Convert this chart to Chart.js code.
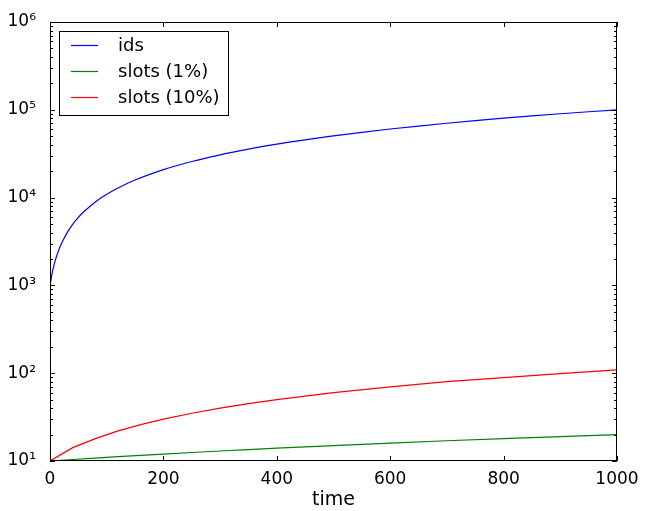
<!DOCTYPE html>
<html>
<head>
<meta charset="utf-8">
<script src="https://cdn.jsdelivr.net/npm/chart.js@4"></script>
<style>
  html, body { margin: 0; padding: 0; background: #fff; }
</style>
</head>
<body>
<canvas id="myChart" width="647" height="511"></canvas>
<script>
// values
const idsTime = [0, 5, 10, 15, 20, 30, 40, 50, 60, 80, 100, 125, 150, 200, 250, 300, 350, 400, 450, 500, 600, 700, 800, 900, 1000];
const ids = [1000, 1500, 1990, 2480, 2980, 3970, 4960, 5950, 6940, 8920, 10900, 13380, 15850, 20800, 25750, 30700, 35650, 40600, 45550, 50500, 60400, 70300, 80200, 90100, 100000];
const slotTime = [0, 40, 80, 120, 160, 200, 250, 300, 350, 400, 500, 600, 700, 800, 900, 1000];
const slots1 = [10, 10.4, 10.8, 11.2, 11.6, 12, 12.5, 13, 13.5, 14, 15, 16, 17, 18, 19, 20];
const slots10 = [10, 14.2, 18, 22, 26, 30, 35, 40, 45, 50, 60, 70, 80, 89, 99, 109];
const labels = ['ids', 'slots (1%)', 'slots (10%)'];
const colors = ['#0000ff', '#008000', '#ff0000'];
const xTicks = [0, 200, 400, 600, 800, 1000];
const sup = {1: '¹', 2: '²', 3: '³', 4: '⁴', 5: '⁵', 6: '⁶'};

const font = '"DejaVu Sans", sans-serif';

function pts(xs, ys) {
    return xs.map((x, i) => ({x: x, y: ys[i]}));
}

// inward ticks, frame and legend drawn the matplotlib way
const frame = {
    id: 'frame',
    afterDraw(chart) {
        const c = chart.ctx;
        const a = chart.chartArea;
        const xs = chart.scales.x, ys = chart.scales.y;
        c.save();
        c.strokeStyle = '#000';
        c.lineWidth = 1;
        c.beginPath();
        xTicks.forEach(v => {
            let px = Math.round(xs.getPixelForValue(v)) + 0.5;
            c.moveTo(px, a.bottom); c.lineTo(px, a.bottom - 5);
            c.moveTo(px, a.top); c.lineTo(px, a.top + 5);
        });
        for (let e = 1; e <= 6; e++) {
            for (let m = 1; m <= 9; m++) {
                let v = m * Math.pow(10, e);
                if (v > 1e6) break;
                let py = Math.round(ys.getPixelForValue(v)) + 0.5;
                let len = m === 1 ? 5 : 3;
                c.moveTo(a.left, py); c.lineTo(a.left + len, py);
                c.moveTo(a.right, py); c.lineTo(a.right - len, py);
            }
        }
        c.stroke();
        c.strokeRect(Math.round(a.left) + 0.5, Math.round(a.top) + 0.5,
            Math.round(a.right - a.left) - 1, Math.round(a.bottom - a.top) - 1);

        // legend
        c.fillStyle = '#fff';
        c.fillRect(59.5, 31.5, 169, 84);
        c.strokeStyle = '#000';
        c.strokeRect(59.5, 31.5, 169, 84);
        c.font = '18px ' + font;
        c.textBaseline = 'middle';
        c.textAlign = 'left';
        labels.forEach((lab, i) => {
            let y = 45 + i * 26;
            c.beginPath();
            c.strokeStyle = colors[i];
            c.lineWidth = 1.2;
            c.moveTo(71, y + 0.5);
            c.lineTo(98, y + 0.5);
            c.stroke();
            c.fillStyle = '#000';
            c.fillText(lab, 118, y + 1);
        });
        c.restore();
    }
};

let ctx = document.getElementById('myChart').getContext('2d');
let myChart = new Chart(ctx, {
    type: 'line',
    data: {
        datasets: [{
            label: labels[0],
            data: pts(idsTime, ids),
            borderColor: colors[0],
            borderWidth: 1.2,
            pointRadius: 0,
            tension: 0.3
        }, {
            label: labels[1],
            data: pts(slotTime, slots1),
            borderColor: colors[1],
            borderWidth: 1.2,
            pointRadius: 0
        }, {
            label: labels[2],
            data: pts(slotTime, slots10),
            borderColor: colors[2],
            borderWidth: 1.2,
            pointRadius: 0
        }]
    },
    options: {
        responsive: false,
        animation: false,
        layout: { padding: { top: 22, right: 30, left: 0, bottom: 0 } },
        plugins: {
            legend: { display: false },
            tooltip: { enabled: false }
        },
        scales: {
            x: {
                type: 'linear',
                min: 0,
                max: 1000,
                grid: { display: false },
                border: { display: false },
                afterFit: s => { s.height = 50; },
                afterBuildTicks: s => { s.ticks = xTicks.map(v => ({value: v})); },
                ticks: {
                    color: '#000',
                    padding: 0,
                    font: { family: font, size: 17 },
                    callback: v => String(v)
                },
                title: {
                    display: true,
                    text: 'time',
                    color: '#000',
                    padding: { top: 0, bottom: 0 },
                    font: { family: font, size: 19 }
                }
            },
            y: {
                type: 'logarithmic',
                min: 10,
                max: 1e6,
                grid: { display: false },
                border: { display: false },
                afterFit: s => { s.width = 50; },
                ticks: {
                    color: '#000',
                    padding: 6,
                    autoSkip: false,
                    font: { family: font, size: 17 },
                    callback: function (v) {
                        let e = Math.log10(v);
                        if (Math.abs(e - Math.round(e)) < 1e-9) return '10' + sup[Math.round(e)];
                        return '';
                    }
                }
            }
        }
    },
    plugins: [frame]
});
</script>
</body>
</html>
